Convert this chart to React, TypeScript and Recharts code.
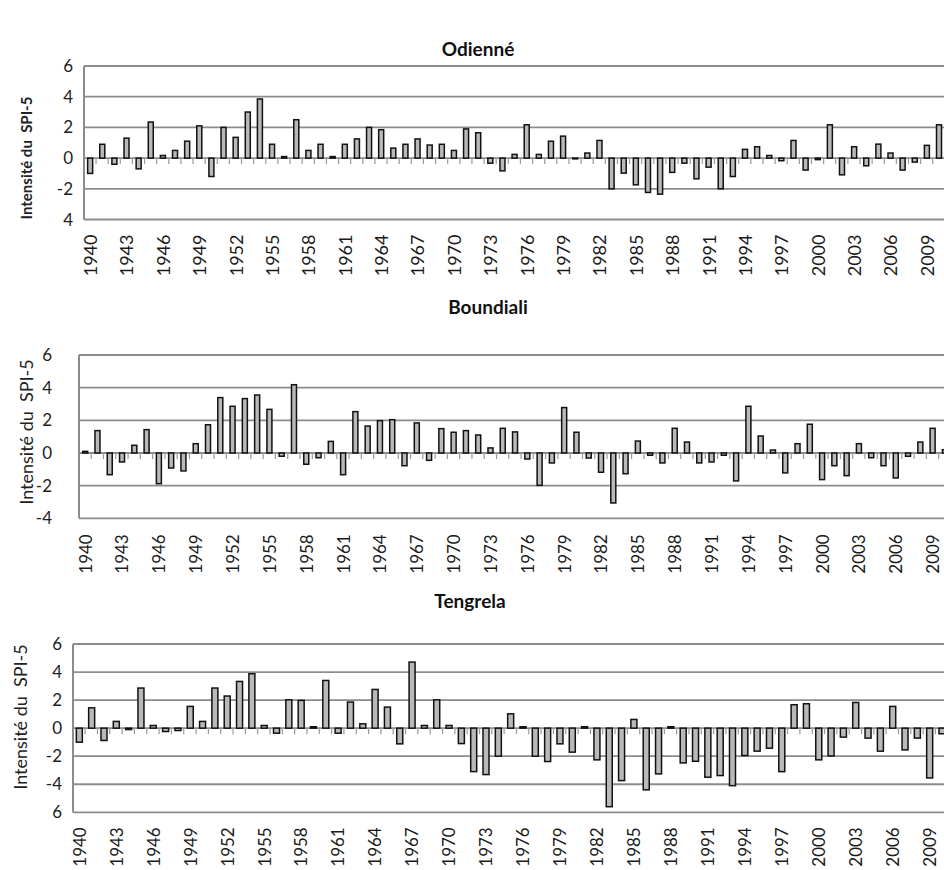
import { BarChart, Bar, XAxis, YAxis, CartesianGrid } from "recharts";

// years on the category axis
const years = [
  1940, 1941, 1942, 1943, 1944, 1945, 1946, 1947, 1948, 1949,
  1950, 1951, 1952, 1953, 1954, 1955, 1956, 1957, 1958, 1959,
  1960, 1961, 1962, 1963, 1964, 1965, 1966, 1967, 1968, 1969,
  1970, 1971, 1972, 1973, 1974, 1975, 1976, 1977, 1978, 1979,
  1980, 1981, 1982, 1983, 1984, 1985, 1986, 1987, 1988, 1989,
  1990, 1991, 1992, 1993, 1994, 1995, 1996, 1997, 1998, 1999,
  2000, 2001, 2002, 2003, 2004, 2005, 2006, 2007, 2008, 2009,
  2010,
];

// SPI-5 values, one per year
const odienneValues = [
  -1.0, 0.9, -0.4, 1.3, -0.7, 2.35, 0.17, 0.5, 1.1, 2.1,
  -1.2, 2.0, 1.35, 3.0, 3.85, 0.9, 0.1, 2.5, 0.5, 0.9,
  0.1, 0.9, 1.25, 2.0, 1.85, 0.65, 0.9, 1.25, 0.85, 0.9,
  0.5, 1.9, 1.65, -0.33, -0.83, 0.24, 2.17, 0.24, 1.1, 1.43,
  -0.05, 0.33, 1.15, -2.0, -0.98, -1.74, -2.24, -2.35, -0.93, -0.33,
  -1.35, -0.59, -2.0, -1.2, 0.57, 0.74, 0.17, -0.17, 1.15, -0.78,
  -0.1, 2.17, -1.09, 0.74, -0.5, 0.91, 0.33, -0.78, -0.26, 0.83,
  2.17,
];

const boundialiValues = [
  0.1, 1.37, -1.33, -0.55, 0.47, 1.43, -1.88, -0.92, -1.1, 0.57,
  1.73, 3.39, 2.86, 3.33, 3.55, 2.67, -0.2, 4.18, -0.69, -0.29,
  0.71, -1.33, 2.53, 1.65, 1.98, 2.04, -0.78, 1.84, -0.45, 1.49,
  1.27, 1.37, 1.1, 0.31, 1.51, 1.29, -0.37, -1.98, -0.61, 2.78,
  1.27, -0.31, -1.18, -3.06, -1.27, 0.73, -0.14, -0.61, 1.51, 0.67,
  -0.61, -0.55, -0.14, -1.71, 2.86, 1.04, 0.18, -1.22, 0.57, 1.76,
  -1.63, -0.78, -1.39, 0.57, -0.29, -0.78, -1.53, -0.2, 0.67, 1.51,
  0.2,
];

const tengrelaValues = [
  -1.0, 1.45, -0.88, 0.48, -0.1, 2.86, 0.19, -0.24, -0.17, 1.55,
  0.48, 2.86, 2.29, 3.33, 3.88, 0.19, -0.36, 2.02, 1.98, 0.1,
  3.4, -0.36, 1.86, 0.31, 2.76, 1.5, -1.12, 4.71, 0.19, 2.02,
  0.19, -1.1, -3.1, -3.31, -2.0, 1.02, 0.1, -2.0, -2.38, -1.12,
  -1.71, 0.1, -2.26, -5.6, -3.74, 0.62, -4.4, -3.26, 0.1, -2.48,
  -2.36, -3.5, -3.38, -4.1, -1.95, -1.64, -1.43, -3.1, 1.67, 1.74,
  -2.26, -1.98, -0.64, 1.83, -0.71, -1.64, 1.55, -1.55, -0.71, -3.55,
  -0.4,
];

// y ticks and the labels as printed on the original
const odienneTicks = [-4, -2, 0, 2, 4, 6];
const odienneTickLabels = ["4", "-2", "0", "2", "4", "6"];
const boundialiTicks = [-4, -2, 0, 2, 4, 6];
const boundialiTickLabels = ["-4", "-2", "0", "2", "4", "6"];
const tengrelaTicks = [-6, -4, -2, 0, 2, 4, 6];
const tengrelaTickLabels = ["6", "-4", "-2", "0", "2", "4", "6"];

const FONT = "Lato, 'Open Sans', sans-serif";

const makeShape = (gap: number) => (props: any) => {
  const { x, y, width, height } = props;
  const top = Math.min(y, y + height);
  const bottom = Math.max(y, y + height);
  const v = props.payload?.v ?? 0;
  const zeroY = v >= 0 ? bottom : top;
  const band = width / (1 - 2 * gap);
  const tickX = x + width / 2 - band / 2;
  return (
    <g>
      <line x1={tickX} x2={tickX} y1={zeroY} y2={zeroY + 6} stroke="#9a9a9a" strokeWidth={1.2} />
      <rect x={x} y={top} width={width} height={Math.max(bottom - top, 0.5)} fill="#b9b9b9" stroke="#111" strokeWidth={1.5} />
    </g>
  );
};

function YearTick(props: any) {
  const { x, y, payload, dy, size, weight } = props;
  const ty = y + dy;
  return (
    <text
      x={x}
      y={ty}
      transform={`rotate(-90 ${x} ${ty})`}
      textAnchor="end"
      dominantBaseline="central"
      fontFamily={FONT}
      fontSize={size}
      fontWeight={weight}
      fill="#1a1a1a"
    >
      {payload.value}
    </text>
  );
}

interface PanelProps {
  title: string;
  titleX: number;
  titleY: number;
  axisTitle: string;
  axisTitleX: number;
  axisTitleY: number;
  axisTitleSize: number;
  axisTitleBold: boolean;
  values: number[];
  ticks: number[];
  tickLabels: string[];
  domain: [number, number];
  top: number;
  marginTop: number;
  plotLeft: number;
  plotWidth: number;
  plotHeight: number;
  yTickGap: number;
  yTickSize: number;
  yearDy: number;
  yearSize: number;
  yearWeight: number;
  gap: number;
}

function Panel(p: PanelProps) {
  const data = years.map((year, i) => ({ year, v: p.values[i] }));
  const xAxisHeight = 60;
  const height = p.marginTop + p.plotHeight + xAxisHeight;
  const width = p.plotLeft + p.plotWidth;
  return (
    <>
      <div
        style={{
          position: "absolute",
          left: p.titleX,
          top: p.titleY,
          transform: "translate(-50%, -50%)",
          fontFamily: FONT,
          fontWeight: 700,
          fontSize: 19,
          color: "#111",
          whiteSpace: "nowrap",
        }}
      >
        {p.title}
      </div>
      <div
        style={{
          position: "absolute",
          left: p.axisTitleX,
          top: p.axisTitleY,
          transform: "translate(-50%, -50%) rotate(-90deg)",
          fontFamily: FONT,
          fontWeight: p.axisTitleBold ? 700 : 400,
          fontSize: p.axisTitleSize,
          color: "#222",
          whiteSpace: "pre",
        }}
      >
        {p.axisTitle}
      </div>
      <div style={{ position: "absolute", left: 0, top: p.top }}>
        <BarChart
          width={width}
          height={height}
          data={data}
          margin={{ top: p.marginTop, right: 0, bottom: 0, left: 0 }}
          barCategoryGap={`${p.gap * 100}%`}
        >
          <CartesianGrid vertical={false} stroke="#8c8c8c" strokeWidth={1.8} />
          <XAxis
            dataKey="year"
            interval={2}
            height={xAxisHeight}
            axisLine={false}
            tickLine={false}
            tickSize={0}
            tickMargin={0}
            tick={(t: any) => (
              <YearTick {...t} dy={p.yearDy} size={p.yearSize} weight={p.yearWeight} />
            )}
          />
          <YAxis
            width={p.plotLeft}
            domain={p.domain}
            ticks={p.ticks}
            interval={0}
            axisLine={{ stroke: "#8c8c8c", strokeWidth: 2 }}
            tickLine={false}
            tickSize={0}
            tickMargin={p.yTickGap}
            tick={{ fontFamily: FONT, fontSize: p.yTickSize, fill: "#222" }}
            tickFormatter={(v: number) => p.tickLabels[p.ticks.indexOf(v)]}
          />
          <Bar dataKey="v" isAnimationActive={false} shape={makeShape(p.gap)} />
        </BarChart>
      </div>
    </>
  );
}

export default function App() {
  return (
    <div
      style={{
        position: "absolute",
        left: 0,
        top: 0,
        width: 944,
        height: 870,
        overflow: "hidden",
        background: "#fff",
      }}
    >
      <Panel
        title="Odienné"
        titleX={478}
        titleY={48}
        axisTitle="Intensité du  SPI-5"
        axisTitleX={26}
        axisTitleY={158}
        axisTitleSize={15}
        axisTitleBold={true}
        values={odienneValues}
        ticks={odienneTicks}
        tickLabels={odienneTickLabels}
        domain={[-4, 6]}
        top={0}
        marginTop={66}
        plotLeft={84}
        plotWidth={861}
        plotHeight={153.5}
        yTickGap={11}
        yTickSize={17}
        yearDy={15}
        yearSize={18}
        yearWeight={400}
        gap={0.3}
      />
      <Panel
        title="Boundiali"
        titleX={488}
        titleY={306}
        axisTitle="Intensité du  SPI-5"
        axisTitleX={26}
        axisTitleY={432}
        axisTitleSize={18}
        axisTitleBold={false}
        values={boundialiValues}
        ticks={boundialiTicks}
        tickLabels={boundialiTickLabels}
        domain={[-4, 6]}
        top={290}
        marginTop={65}
        plotLeft={79}
        plotWidth={872}
        plotHeight={163.3}
        yTickGap={27}
        yTickSize={17}
        yearDy={16}
        yearSize={17}
        yearWeight={400}
        gap={0.3}
      />
      <Panel
        title="Tengrela"
        titleX={470}
        titleY={600}
        axisTitle="Intensité du  SPI-5"
        axisTitleX={20}
        axisTitleY={717}
        axisTitleSize={18}
        axisTitleBold={false}
        values={tengrelaValues}
        ticks={tengrelaTicks}
        tickLabels={tengrelaTickLabels}
        domain={[-6, 6]}
        top={580}
        marginTop={64}
        plotLeft={73}
        plotWidth={875}
        plotHeight={168.3}
        yTickGap={11}
        yTickSize={17}
        yearDy={15}
        yearSize={17}
        yearWeight={400}
        gap={0.27}
      />
    </div>
  );
}
